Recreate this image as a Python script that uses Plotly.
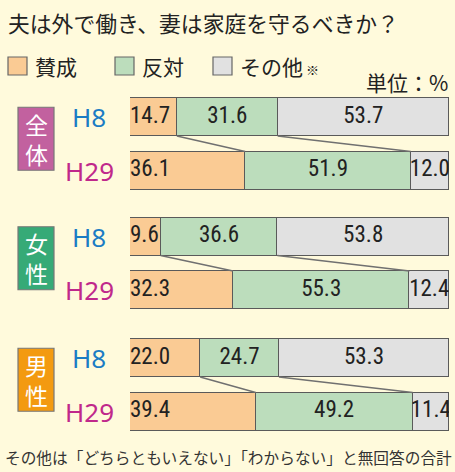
import plotly.graph_objects as go

# ---- data ----
groups = ["全体", "女性", "男性"]
years = ["H8", "H29"]
agree = [14.7, 36.1, 9.6, 32.3, 22.0, 39.4]
oppose = [31.6, 51.9, 36.6, 55.3, 24.7, 49.2]
other = [53.7, 12.0, 53.8, 12.4, 53.3, 11.4]
series_names = ["賛成", "反対", "その他"]
title_text = "夫は外で働き、妻は家庭を守るべきか？"
unit_text = "単位：%"
note_text = "その他は「どちらともいえない」「わからない」と無回答の合計"

# ---- style ----
W, H = 455, 472
BG = "#FFFADC"
C_AGREE = "#FACB94"
C_OPP = "#BCDDBC"
C_OTH = "#E1E1E1"
BORDER = "#5A5A5A"
GROUP_COLORS = ["#C2619F", "#36AA77", "#F39A10"]
YEAR_COLORS = ["#1B7CC4", "#C0288B"]
JP = "Noto Sans CJK JP"
NUM = "Roboto Condensed, DejaVu Sans Condensed, Noto Sans"

group_center = [117, 236.5, 358]   # pixel y of first bar in group
pair_gap = 53.5
bar_h = 38

ys = []
for g in range(len(groups)):
    for k in range(len(years)):
        ys.append(group_center[g] + k * pair_gap)

fig = go.Figure()
for vals, col in [(agree, C_AGREE), (oppose, C_OPP), (other, C_OTH)]:
    fig.add_trace(go.Bar(
        x=vals, y=ys, orientation="h", width=bar_h,
        marker=dict(color=col, line=dict(color=BORDER, width=1)),
        hoverinfo="skip", showlegend=False))

# connector lines
for g in range(len(groups)):
    i8, i29 = 2 * g, 2 * g + 1
    for cum8, cum29 in [(agree[i8], agree[i29]),
                        (agree[i8] + oppose[i8], agree[i29] + oppose[i29])]:
        fig.add_trace(go.Scatter(
            x=[cum8, cum29], y=[ys[i8] + bar_h / 2, ys[i29] - bar_h / 2],
            mode="lines", line=dict(color="#707070", width=1.5),
            hoverinfo="skip", showlegend=False))

# value labels
num_font = dict(family=NUM, size=23, color="#222222")
fig.add_trace(go.Scatter(
    x=[0.0] * len(agree), y=ys, mode="text",
    text=[f"{v:.1f}" for v in agree], textposition="middle right",
    textfont=num_font, hoverinfo="skip", showlegend=False))
fig.add_trace(go.Scatter(
    x=[a + o / 2 for a, o in zip(agree, oppose)], y=ys, mode="text",
    text=[f"{v:.1f}" for v in oppose], textposition="middle center",
    textfont=num_font, hoverinfo="skip", showlegend=False))
fig.add_trace(go.Scatter(
    x=[a + o + t / 2 for a, o, t in zip(agree, oppose, other)], y=ys, mode="text",
    text=[f"{v:.1f}" for v in other], textposition="middle center",
    textfont=num_font, hoverinfo="skip", showlegend=False))

shapes = []
ann = []

def px(x):
    return x / W

# group boxes and labels
for g, name in enumerate(groups):
    mid = (ys[2 * g] + ys[2 * g + 1]) / 2 - 5
    shapes.append(dict(type="rect", xref="paper", yref="y",
                       x0=px(18), x1=px(54), y0=mid - 31.5, y1=mid + 31.5,
                       fillcolor=GROUP_COLORS[g], line=dict(color="#777777", width=1.2),
                       layer="below"))
    ann.append(dict(xref="paper", yref="y", x=px(36), y=mid,
                    text="<br>".join(name), showarrow=False,
                    xanchor="center", yanchor="middle",
                    font=dict(family=JP, size=23, color="white")))
    for k, yr in enumerate(years):
        ann.append(dict(xref="paper", yref="y", x=px(89), y=ys[2 * g + k],
                        text=yr, showarrow=False, xanchor="center", yanchor="middle",
                        font=dict(family="Noto Sans", size=26, color=YEAR_COLORS[k])))

# title
ann.append(dict(xref="paper", yref="y", x=px(6), y=22, text=title_text,
                showarrow=False, xanchor="left", yanchor="middle",
                font=dict(family=JP, size=21.8, color="#222222")))

# legend
leg_x = [8, 115, 213]
for nm, col, lx in zip(series_names, [C_AGREE, C_OPP, C_OTH], leg_x):
    shapes.append(dict(type="rect", xref="paper", yref="y",
                       x0=px(lx), x1=px(lx + 19), y0=57, y1=75,
                       fillcolor=col, line=dict(color="#666666", width=1.2)))
    ann.append(dict(xref="paper", yref="y", x=px(lx + 25), y=66, text=nm,
                    showarrow=False, xanchor="left", yanchor="middle",
                    font=dict(family=JP, size=21, color="#222222")))
ann.append(dict(xref="paper", yref="y", x=px(304), y=69, text="※",
                showarrow=False, xanchor="left", yanchor="middle",
                font=dict(family=JP, size=13, color="#222222")))

# unit
ann.append(dict(xref="paper", yref="y", x=px(450), y=82, text=unit_text,
                showarrow=False, xanchor="right", yanchor="middle",
                font=dict(family=JP, size=21, color="#222222")))

# footnote
ann.append(dict(xref="paper", yref="y", x=px(3), y=457, text=note_text,
                showarrow=False, xanchor="left", yanchor="middle",
                font=dict(family=JP, size=15.7, color="#333333")))

fig.update_layout(
    width=W, height=H, margin=dict(l=0, r=0, t=0, b=0),
    paper_bgcolor=BG, plot_bgcolor=BG, barmode="stack", bargap=0,
    xaxis=dict(domain=[130 / W, 449 / W], range=[0, 100], visible=False, fixedrange=True),
    yaxis=dict(domain=[0, 1], range=[H, 0], visible=False, fixedrange=True),
    shapes=shapes, annotations=ann, showlegend=False,
)

fig.write_html(
    "out.html",
    config={"displayModeBar": False},
    post_script=("document.body.style.margin='0';"
                 "document.body.style.overflow='hidden';"
                 f"document.body.style.background='{BG}';"),
)
